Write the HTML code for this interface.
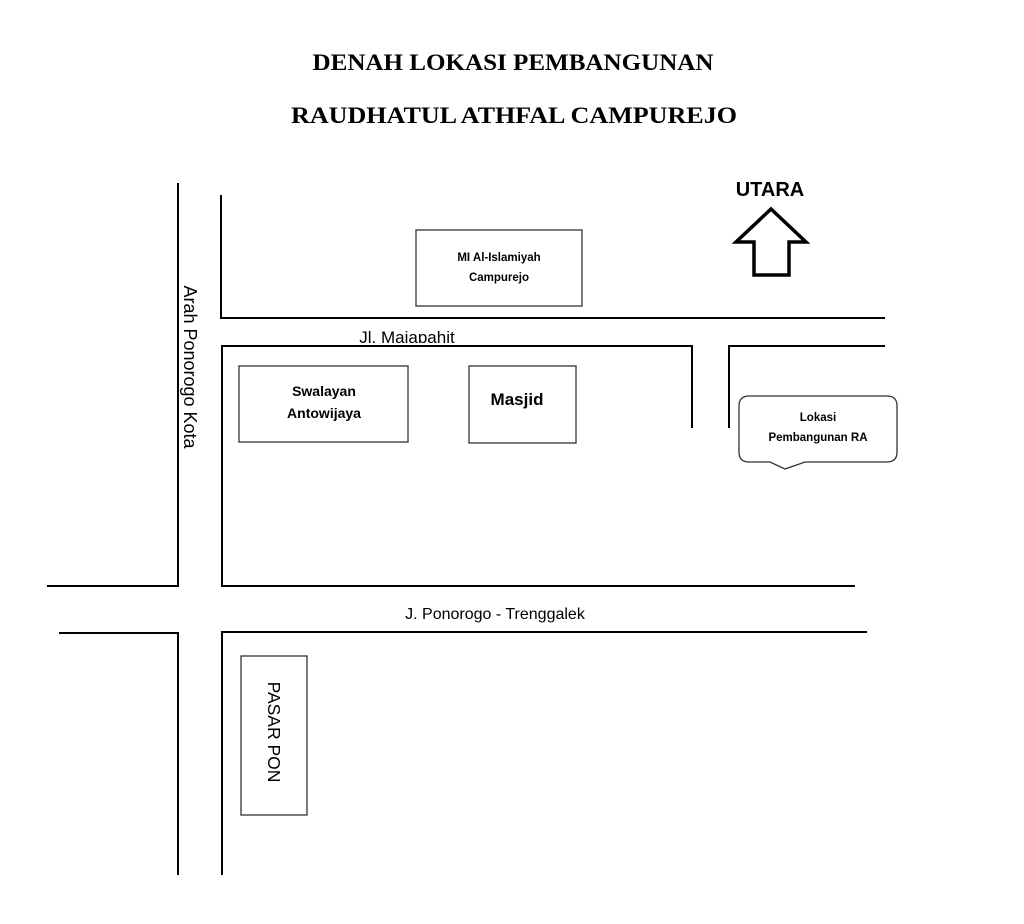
<!DOCTYPE html>
<html><head><meta charset="utf-8"><style>
html,body{margin:0;padding:0;background:#fff;}
svg{display:block;}
</style></head><body>
<svg width="1024" height="924" viewBox="0 0 1024 924" xmlns="http://www.w3.org/2000/svg">
<rect width="1024" height="924" fill="#fff"/>
<g font-family="'Liberation Serif',serif" font-weight="bold" font-size="23" text-anchor="middle" fill="#000">
<text x="513" y="70" textLength="401" lengthAdjust="spacingAndGlyphs">DENAH LOKASI PEMBANGUNAN</text>
<text x="514" y="123" textLength="446" lengthAdjust="spacingAndGlyphs">RAUDHATUL ATHFAL  CAMPUREJO</text>
</g>
<g stroke="#000" stroke-width="2" fill="none">
<line x1="178" y1="183" x2="178" y2="587"/>
<line x1="47" y1="586" x2="178" y2="586"/>
<polyline points="221,195 221,318 885,318"/>
<polyline points="692,428 692,346 222,346 222,586 855,586"/>
<polyline points="729,428 729,346 885,346"/>
<polyline points="59,633 178,633 178,875"/>
<polyline points="222,875 222,632 867,632"/>
</g>
<g stroke="#333" stroke-width="1.3" fill="#fff">
<rect x="416" y="230" width="166" height="76"/>
<rect x="239" y="366" width="169" height="76"/>
<rect x="469" y="366" width="107" height="77"/>
<rect x="241" y="656" width="66" height="159"/>
<path d="M749,396 H887 Q897,396 897,406 V452 Q897,462 887,462 H805 L785,469 L770,462 H749 Q739,462 739,452 V406 Q739,396 749,396 Z"/>
</g>
<polygon points="771,209 806,242 789,242 789,275 754,275 754,242 736,242" fill="#fff" stroke="#000" stroke-width="3.5" stroke-linejoin="miter"/>
<g font-family="'Liberation Sans',sans-serif" fill="#000" text-anchor="middle">
<text x="770" y="196" font-size="20" font-weight="bold">UTARA</text>
<text x="499" y="261" font-size="11.5" font-weight="bold">MI Al-Islamiyah</text>
<text x="499" y="281" font-size="11.5" font-weight="bold">Campurejo</text>
<text x="324" y="396" font-size="14" font-weight="bold">Swalayan</text>
<text x="324" y="418" font-size="14" font-weight="bold">Antowijaya</text>
<text x="517" y="405" font-size="17" font-weight="bold">Masjid</text>
<text x="818" y="421" font-size="11.5" font-weight="bold">Lokasi</text>
<text x="818" y="441" font-size="11.5" font-weight="bold">Pembangunan RA</text>
<text x="495" y="619" font-size="16">J. Ponorogo - Trenggalek</text>
<text transform="translate(184,367) rotate(90)" font-size="18">Arah Ponorogo Kota</text>
<text transform="translate(268,732) rotate(90)" font-size="17.5">PASAR PON</text>
</g>
<svg x="340" y="322" width="140" height="21" overflow="hidden">
<text x="67" y="21" font-family="'Liberation Sans',sans-serif" font-size="17" text-anchor="middle" fill="#000">Jl. Majapahit</text>
</svg>
</svg>
</body></html>
